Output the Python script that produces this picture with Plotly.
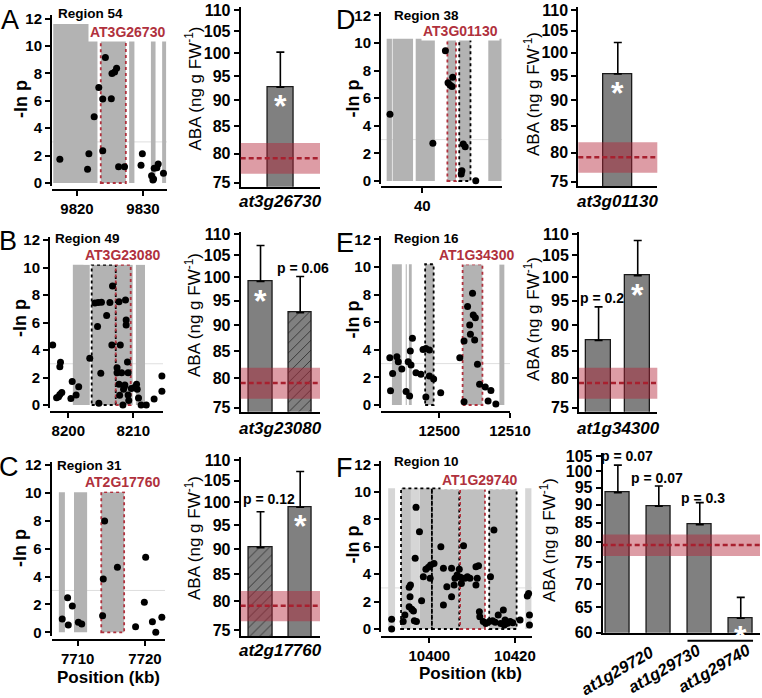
import math
import plotly.graph_objects as go

# ======================= DATA =======================
# Panel A - Region 54 (GWAS -ln p vs position, kb)
a_pos = [9817.4, 9821.6, 9821.8, 9822.6, 9823.3, 9823.9, 9823.9, 9824.3, 9825.2, 9825.3,
         9825.7, 9826.0, 9826.3, 9827.2, 9829.9, 9829.7, 9831.3, 9831.5, 9831.7, 9832.1,
         9832.3, 9833.1, 9831.6]
a_lnp = [1.73, 1.00, 2.14, 4.84, 6.98, 6.13, 2.36, 9.17, 6.15, 8.00,
         8.10, 8.37, 1.19, 1.19, 2.14, 1.29, 0.53, 0.22, 1.07, 1.12,
         1.39, 0.71, 0.30]
a_genes = [[9816.4, 9823.1], [9823.6, 9827.4], [9827.9, 9828.7], [9831.2, 9831.9], [9832.9, 9833.5]]
a_candidate = [9823.6, 9827.4]
a_tested = []
a_xticks = [9820, 9830]

# Panel B - Region 49
b_pos = [8197.6, 8198.2, 8198.5, 8198.7, 8198.8, 8198.7, 8199.0, 8200.4, 8200.6, 8201.2,
         8201.6, 8203.3, 8204.1, 8204.5, 8204.7, 8205.0, 8204.6, 8205.1, 8206.4, 8205.9,
         8206.8, 8206.7, 8207.8, 8207.5, 8207.5, 8207.8, 8207.9, 8208.2, 8208.0, 8208.4,
         8208.8, 8208.9, 8208.9, 8209.1, 8209.2, 8208.6, 8208.7, 8208.5, 8209.2, 8209.3,
         8209.7, 8210.3, 8210.5, 8210.6, 8210.8, 8211.2, 8212.0, 8213.2, 8214.4, 8214.4]
b_lnp = [4.36, 0.53, 0.60, 0.77, 3.10, 2.79, 0.90, 0.48, 1.70, 0.73,
         1.33, 3.40, 7.42, 5.70, 0.13, 2.30, 7.45, 7.48, 7.45, 6.50,
         8.66, 4.36, 7.50, 2.70, 2.35, 1.50, 0.70, 2.35, 4.36, 0.00,
         7.64, 6.18, 5.82, 3.13, 2.35, 1.30, 1.45, 1.15, 0.72, 0.32,
         1.20, 1.33, 1.50, 1.15, 0.50, 0.00, 0.00, 0.44, 2.10, 1.00]
b_genes = [[8200.7, 8203.3], [8203.6, 8209.9], [8210.4, 8211.8]]
b_candidate = [8207.3, 8209.6]
b_tested = [[8203.6, 8207.3]]
b_xticks = [8200, 8210]

# Panel C - Region 31
c_pos = [7707.7, 7708.5, 7708.6, 7709.2, 7710.1, 7710.6, 7714.0, 7713.8, 7713.7, 7715.9,
         7718.6, 7719.9, 7720.1, 7721.1, 7721.6, 7722.5]
c_lnp = [0.95, 2.48, 0.52, 1.89, 0.72, 0.60, 7.98, 3.82, 1.19, 4.66,
         0.40, 2.15, 5.38, 0.76, 0.00, 1.08]
c_genes = [[7707.2, 7708.1], [7709.45, 7711.4], [7713.5, 7716.9]]
c_candidate = [7713.5, 7716.9]
c_tested = []
c_xticks = [7710, 7720]

# Panel D - Region 38
d_pos = [35.1, 41.6, 43.5, 43.9, 44.2, 44.5, 44.6, 46.2, 46.5, 46.0, 45.9, 48.1]
d_lnp = [4.83, 2.73, 9.44, 7.12, 6.96, 6.84, 7.51, 2.68, 2.49, 0.75, 0.51, 0.02]
d_genes = [[34.6, 35.4], [35.5, 38.6], [39.0, 41.9], [43.8, 45.1], [45.6, 47.3], [50.0, 52.0]]
d_candidate = [43.8, 45.1]
d_tested = [[45.6, 47.3]]
d_xticks = [40]

# Panel E - Region 16
e_pos = [12493.0, 12493.4, 12493.1, 12494.0, 12494.2, 12494.7, 12495.3, 12495.8, 12495.6, 12496.0,
         12495.9, 12496.2, 12496.7, 12497.4, 12497.7, 12498.1, 12498.6, 12498.1, 12498.6, 12499.2,
         12500.2, 12502.9, 12503.5, 12503.5, 12504.0, 12504.3, 12504.4, 12504.7, 12504.8, 12505.1,
         12505.0, 12505.4, 12505.7, 12506.5, 12507.3, 12506.9, 12508.0]
e_lnp = [3.43, 2.29, 1.03, 3.50, 3.13, 2.60, 0.97, 0.65, 3.13, 2.90,
         3.91, 4.83, 2.34, 2.22, 4.03, 4.10, 3.98, 0.58, 2.10, 1.88,
         0.89, 3.43, 4.64, 0.24, 7.13, 5.80, 5.12, 8.09, 6.52, 6.33,
         4.71, 2.95, 1.50, 1.31, 1.05, 0.29, 0.07]
e_genes = [[12493.3, 12494.7], [12495.25, 12495.4], [12495.7, 12496.1], [12498.0, 12499.2],
           [12503.3, 12506.1], [12508.5, 12509.2]]
e_candidate = [12503.3, 12506.1]
e_tested = [[12498.0, 12499.2]]
e_xticks = [12500, 12510]

# Panel F - Region 10
f_pos = [10391.2, 10391.2, 10393.9, 10394.3, 10395.3, 10395.6, 10395.5, 10395.3, 10395.9, 10396.3,
         10396.5, 10397.0, 10396.9, 10397.7, 10396.7, 10398.2, 10398.6, 10399.2, 10399.8, 10400.2,
         10400.3, 10401.1, 10402.7, 10403.3, 10403.3, 10404.1, 10405.2, 10405.8, 10405.2, 10406.0,
         10406.5, 10407.0, 10407.3, 10407.5, 10408.0, 10408.3, 10408.9, 10409.5, 10410.9, 10411.5,
         10410.9, 10411.2, 10411.7, 10411.8, 10412.6, 10413.2, 10414.0, 10414.8, 10415.4, 10414.3,
         10415.1, 10416.1, 10416.7, 10417.5, 10417.7, 10418.2, 10418.9, 10419.5, 10417.3, 10421.2,
         10422.9, 10423.2, 10423.4, 10423.4]
f_lnp = [0.71, 0.00, 0.54, 1.02, 3.04, 3.21, 2.36, 1.63, 1.44, 1.31,
         0.61, 0.54, 8.88, 7.10, 5.16, 2.07, 3.82, 4.36, 4.50, 3.70,
         4.67, 4.79, 6.01, 4.43, 1.75, 3.09, 4.43, 3.21, 2.36, 3.70,
         3.94, 4.36, 3.77, 3.33, 6.08, 3.70, 3.82, 3.70, 4.55, 4.62,
         3.21, 3.70, 1.26, 0.90, 0.54, 0.41, 0.54, 0.61, 0.49, 3.82,
         7.23, 1.02, 0.41, 0.29, 0.66, 0.41, 0.54, 0.46, 1.39, 0.66,
         2.41, 2.60, 1.02, 0.29]
f_genes = [[10393.4, 10395.7], [10397.8, 10400.6], [10400.6, 10407.0], [10407.2, 10413.0], [10414.0, 10420.4]]
f_genes_light = [[10390.4, 10392.0], [10395.7, 10397.8], [10422.4, 10423.9]]
f_candidate = [10407.2, 10413.0]
f_tested = [[10393.4, 10400.6], [10400.6, 10407.0], [10414.0, 10420.4]]
f_xticks = [10400, 10420]

lnp_ticks = [0, 2, 4, 6, 8, 10, 12]

# ABA content (ng g FW-1) of mutant lines, mean and error
a_lines = ["at3g26730"]
a_aba = [92.7]
a_err = [7.5]
a_hatched = [False]
a_sig = [True]
a_p = [""]

b_lines = ["at3g23080"]
b_aba = [99.1, 92.5]
b_err = [8.2, 7.7]
b_hatched = [False, True]
b_sig = [True, False]
b_p = ["", "p = 0.06"]

c_lines = ["at2g17760"]
c_aba = [90.3, 98.9]
c_err = [7.6, 8.3]
c_hatched = [True, False]
c_sig = [False, True]
c_p = ["p = 0.12", ""]

d_lines = ["at3g01130"]
d_aba = [95.4]
d_err = [6.9]
d_hatched = [False]
d_sig = [True]
d_p = [""]

e_lines = ["at1g34300"]
e_aba = [87.0, 100.4]
e_err = [6.7, 8.1]
e_hatched = [False, False]
e_sig = [False, True]
e_p = ["p = 0.2", ""]

f_lines = ["at1g29720", "at1g29730", "at1g29740"]
f_aba = [93.5, 89.6, 84.5, 62.8]
f_err = [8.5, 5.9, 6.1, 4.3]
f_hatched = [False, False, False, False]
f_sig = [False, False, False, True]
f_p = ["p = 0.07", "p = 0.07", "p = 0.3", ""]

wt_mean = 79.2
wt_sd = 2.7
aba_ticks = [75, 80, 85, 90, 95, 100, 105, 110]
f_aba_ticks = [60, 65, 70, 75, 80, 85, 90, 95, 100, 105]

# ======================= STYLE / LAYOUT =======================
W, H = 762, 698
FONT = "Liberation Sans, Arial, Helvetica, sans-serif"
RED = "#b0313d"
GENE_GRAY = "#b3b3b3"
F_GRAY = "#c0c0c0"
LIGHT_GRAY = "#d6d6d6"
BAR_GRAY = "#808080"


def fx(p):
    return p / W


def fy(p):
    return 1 - p / H


def axkey(n, k):
    return f"{k}axis" if n == 1 else f"{k}axis{n}"


def aref(n, k):
    return k if n == 1 else f"{k}{n}"


fig = go.Figure()
shapes = []
annots = []
lay = {}


def txt(x, y, text, size, color="black", bold=True, italic=False, angle=0,
        xanchor="center", bg=None, xref="paper", yref="paper", xshift=0, yshift=0):
    a = dict(x=x, y=y, xref=xref, yref=yref, text=text, showarrow=False,
             xanchor=xanchor, yanchor="middle", textangle=angle, xshift=xshift, yshift=yshift,
             font=dict(family=FONT, size=size, color=color,
                       weight="bold" if bold else "normal",
                       style="italic" if italic else "normal"))
    if bg:
        a["bgcolor"] = bg
        a["borderpad"] = 1
    annots.append(a)


scatter_panels = [
    dict(n=1, letter="A", region="Region 54", gene="AT3G26730", pos=a_pos, lnp=a_lnp,
         genes=a_genes, light=[], cand=a_candidate, tested=a_tested, xticks=a_xticks, gray=GENE_GRAY,
         top=10.5, tall=(0, 11.6), yax=52, y0=183, ppu=13.7, xd=(52, 167), tref=(9820, 77),
         ppk=6.6, xline=190, letter_xy=(9.5, 20.5), region_xy=(56, 14), gene_xy=(127, 31.7),
         ytitle_xy=(21, 99), xtitle_xy=None),
    dict(n=3, letter="B", region="Region 49", gene="AT3G23080", pos=b_pos, lnp=b_lnp,
         genes=b_genes, light=[], cand=b_candidate, tested=b_tested, xticks=b_xticks, gray=GENE_GRAY,
         top=10.2, tall=None, yax=50, y0=405, ppu=13.75, xd=(50, 163), tref=(8200, 68.3),
         ppk=6.5, xline=412.3, letter_xy=(8, 241), region_xy=(53, 238.5), gene_xy=(122.8, 255),
         ytitle_xy=(20, 318), xtitle_xy=None),
    dict(n=5, letter="C", region="Region 31", gene="AT2G17760", pos=c_pos, lnp=c_lnp,
         genes=c_genes, light=[], cand=c_candidate, tested=c_tested, xticks=c_xticks, gray=GENE_GRAY,
         top=10.05, tall=None, yax=51.7, y0=632.3, ppu=13.94, xd=(51.7, 165), tref=(7710, 77.7),
         ppk=6.73, xline=640, letter_xy=(9, 466.7), region_xy=(55, 465), gene_xy=(122.5, 481.7),
         ytitle_xy=(20, 548), xtitle_xy=(108, 677)),
    dict(n=7, letter="D", region="Region 38", gene="AT3G01130", pos=d_pos, lnp=d_lnp,
         genes=d_genes, light=[], cand=d_candidate, tested=d_tested, xticks=d_xticks, gray=GENE_GRAY,
         top=10.3, tall=None, yax=381, y0=181, ppu=13.8, xd=(381, 502), tref=(40, 422.3),
         ppk=6.6, xline=187.3, letter_xy=(346, 20), region_xy=(391.7, 15.5), gene_xy=(460.8, 30.8),
         ytitle_xy=(352.5, 99), xtitle_xy=None),
    dict(n=9, letter="E", region="Region 16", gene="AT1G34300", pos=e_pos, lnp=e_lnp,
         genes=e_genes, light=[], cand=e_candidate, tested=e_tested, xticks=e_xticks, gray=GENE_GRAY,
         top=10.2, tall=None, yax=381, y0=405, ppu=13.8, xd=(381, 510), tref=(12500, 439.3),
         ppk=7.07, xline=411.7, letter_xy=(345, 242.5), region_xy=(391.7, 238.5), gene_xy=(476.7, 254.5),
         ytitle_xy=(352.5, 320), xtitle_xy=None),
    dict(n=11, letter="F", region="Region 10", gene="AT1G29740", pos=f_pos, lnp=f_lnp,
         genes=f_genes, light=f_genes_light, cand=f_candidate, tested=f_tested, xticks=f_xticks, gray=F_GRAY,
         top=10.27, tall=None, yax=381, y0=629, ppu=13.7, xd=(381, 531.7), tref=(10400, 429.3),
         ppk=4.28, xline=637.3, letter_xy=(344, 467.5), region_xy=(391.7, 461.5), gene_xy=(479.2, 480),
         ytitle_xy=(352.5, 545), xtitle_xy=(470, 673)),
]

tickfont15 = dict(family=FONT, size=15, color="black", weight="bold")
tickfont16 = dict(family=FONT, size=16, color="black", weight="bold")

for sp in scatter_panels:
    n = sp["n"]
    xr, yr = aref(n, "x"), aref(n, "y")
    t0, tp = sp["tref"]
    x_lo = t0 + (sp["xd"][0] - tp) / sp["ppk"]
    x_hi = t0 + (sp["xd"][1] - tp) / sp["ppk"]
    y_lo, y_hi = -0.25, 12.25
    lay[axkey(n, "x")] = dict(domain=[fx(sp["xd"][0]), fx(sp["xd"][1])], range=[x_lo, x_hi],
                              anchor="free", position=fy(sp["xline"]), showline=True,
                              linecolor="black", linewidth=2, ticks="outside", ticklen=5,
                              tickwidth=2, tickcolor="black", tickvals=sp["xticks"],
                              tickformat="d", tickfont=tickfont15, showgrid=False,
                              zeroline=False, automargin=False)
    lay[axkey(n, "y")] = dict(domain=[fy(sp["y0"] - y_lo * sp["ppu"]), fy(sp["y0"] - y_hi * sp["ppu"])],
                              range=[y_lo, y_hi], anchor=xr, showline=True, linecolor="black",
                              linewidth=2, ticks="outside", ticklen=5, tickwidth=2,
                              tickcolor="black", tickvals=lnp_ticks, tickfont=tickfont15,
                              showgrid=False, zeroline=False, automargin=False)
    # gene models
    for i, (g0, g1) in enumerate(sp["genes"]):
        top = sp["top"]
        if sp["tall"] is not None and sp["tall"][0] == i:
            top = sp["tall"][1]
        shapes.append(dict(type="rect", xref=xr, yref=yr, x0=g0, x1=g1, y0=0, y1=top,
                           fillcolor=sp["gray"], line=dict(width=0), layer="below"))
    for g0, g1 in sp["light"]:
        shapes.append(dict(type="rect", xref=xr, yref=yr, x0=g0, x1=g1, y0=0, y1=sp["top"],
                           fillcolor=LIGHT_GRAY, line=dict(width=0), layer="below"))
    # threshold line
    shapes.append(dict(type="line", xref=f"{xr} domain", yref=yr, x0=0, x1=1, y0=3, y1=3,
                       line=dict(color="rgba(215,215,215,0.8)", width=1), layer="below"))
    # tested genes (black dotted) and candidate gene (red dotted)
    for g0, g1 in sp["tested"]:
        shapes.append(dict(type="rect", xref=xr, yref=yr, x0=g0, x1=g1, y0=0, y1=sp["top"],
                           line=dict(color="black", width=1.8, dash="dot"), layer="below"))
    c0, c1 = sp["cand"]
    shapes.append(dict(type="rect", xref=xr, yref=yr, x0=c0, x1=c1, y0=0, y1=sp["top"],
                       line=dict(color=RED, width=1.8, dash="dot"), layer="below"))
    fig.add_trace(go.Scatter(x=sp["pos"], y=sp["lnp"], mode="markers", xaxis=xr, yaxis=yr,
                             marker=dict(color="black", size=7), cliponaxis=False,
                             hoverinfo="skip", showlegend=False))
    # texts
    txt(fx(sp["letter_xy"][0]), fy(sp["letter_xy"][1]), sp["letter"], 27, bold=False)
    txt(fx(sp["region_xy"][0]), fy(sp["region_xy"][1]), sp["region"], 13.5, xanchor="left")
    txt(fx(sp["gene_xy"][0]), fy(sp["gene_xy"][1]), sp["gene"], 14, color=RED, bg="white")
    txt(fx(sp["ytitle_xy"][0]), fy(sp["ytitle_xy"][1]), "-ln p", 18, angle=-90)
    if sp["xtitle_xy"]:
        txt(fx(sp["xtitle_xy"][0]), fy(sp["xtitle_xy"][1]), "Position (kb)", 17)


def log_range(v1, p1, v2, p2, ptop, pbot):
    l1, l2 = math.log10(v1), math.log10(v2)
    lpp = (l1 - l2) / (p2 - p1)
    return [l2 - (pbot - p2) * lpp, l1 + (p1 - ptop) * lpp]


bar_panels = [
    dict(n=2, vals=a_aba, errs=a_err, hatch=a_hatched, sig=a_sig, p=a_p, lines=a_lines,
         xd=(240.7, 320), xr=(-0.5, 0.5), bw=0.33, cal=(110, 10, 75, 182.7), yd=(186.7, 7.3),
         ticks=aba_ticks, title_xy=(193, 88.5), label_py=201.7, pdx=[0], pdy=[0]),
    dict(n=4, vals=b_aba, errs=b_err, hatch=b_hatched, sig=b_sig, p=b_p, lines=b_lines,
         xd=(240.7, 320), xr=(-0.5, 1.5), bw=0.59, cal=(110, 234.3, 75, 407.7), yd=(411.7, 232.3),
         ticks=aba_ticks, title_xy=(193, 315), label_py=428, pdx=[0, 3], pdy=[0, 9]),
    dict(n=6, vals=c_aba, errs=c_err, hatch=c_hatched, sig=c_sig, p=c_p, lines=c_lines,
         xd=(240.7, 320), xr=(-0.5, 1.5), bw=0.6, cal=(110, 460, 75, 630), yd=(636, 457.3),
         ticks=aba_ticks, title_xy=(193, 538), label_py=650, pdx=[8, 0], pdy=[13, 0]),
    dict(n=8, vals=d_aba, errs=d_err, hatch=d_hatched, sig=d_sig, p=d_p, lines=d_lines,
         xd=(578.3, 657.3), xr=(-0.5, 0.5), bw=0.355, cal=(110, 10, 75, 181.7), yd=(186, 7.3),
         ticks=aba_ticks, title_xy=(532, 94), label_py=201.7, pdx=[0], pdy=[0]),
    dict(n=10, vals=e_aba, errs=e_err, hatch=e_hatched, sig=e_sig, p=e_p, lines=e_lines,
         xd=(579, 657.3), xr=(-0.5, 1.5), bw=0.63, cal=(110, 234.3, 75, 407.7), yd=(411.7, 232.3),
         ticks=aba_ticks, title_xy=(532, 319), label_py=428, pdx=[3, 0], pdy=[9, 0]),
    dict(n=12, vals=f_aba, errs=f_err, hatch=f_hatched, sig=f_sig, p=f_p, lines=None,
         xd=(602.7, 760), xr=(-0.37, 3.47), bw=0.6, cal=(105, 456, 60, 632.7), yd=(632.7, 453.3),
         ticks=f_aba_ticks, title_xy=(548, 540), label_py=None, pdx=[9, -2, 3, 0], pdy=[9, 8, 5, 0]),
]

for bp in bar_panels:
    n = bp["n"]
    xr, yr = aref(n, "x"), aref(n, "y")
    v1, p1, v2, p2 = bp["cal"]
    rng = log_range(v1, p1, v2, p2, bp["yd"][1], bp["yd"][0])
    lay[axkey(n, "x")] = dict(domain=[fx(bp["xd"][0]), fx(bp["xd"][1])], range=list(bp["xr"]),
                              anchor=yr, showline=True, linecolor="black", linewidth=2,
                              showticklabels=False, ticks="", showgrid=False, zeroline=False,
                              automargin=False)
    lay[axkey(n, "y")] = dict(domain=[fy(bp["yd"][0]), fy(bp["yd"][1])], type="log", range=rng,
                              anchor=xr, showline=True, linecolor="black", linewidth=2,
                              ticks="outside", ticklen=5, tickwidth=2, tickcolor="black",
                              tickvals=bp["ticks"], ticktext=[str(t) for t in bp["ticks"]],
                              tickfont=tickfont16, showgrid=False, zeroline=False,
                              automargin=False)
    idx = list(range(len(bp["vals"])))
    fig.add_trace(go.Bar(x=idx, y=bp["vals"], width=bp["bw"], xaxis=xr, yaxis=yr,
                         marker=dict(color=BAR_GRAY, line=dict(color="#1a1a1a", width=1.3),
                                     pattern=dict(shape=["/" if h else "" for h in bp["hatch"]],
                                                  fgcolor="#2a2a2a", bgcolor=BAR_GRAY,
                                                  size=7, solidity=0.12, fillmode="replace")),
                         error_y=dict(type="data", array=bp["errs"], arrayminus=[0] * len(idx),
                                      symmetric=False, color="black", thickness=1.6, width=4),
                         hoverinfo="skip", showlegend=False))
    # wild-type mean +/- sd band
    shapes.append(dict(type="rect", xref=f"{xr} domain", yref=yr, x0=0, x1=1,
                       y0=wt_mean - wt_sd, y1=wt_mean + wt_sd,
                       fillcolor="rgba(180,35,55,0.45)", line=dict(width=0), layer="above"))
    shapes.append(dict(type="line", xref=f"{xr} domain", yref=yr, x0=0, x1=1,
                       y0=wt_mean, y1=wt_mean,
                       line=dict(color="#a8202f", width=2.5, dash="5px,3px"), layer="above"))
    # p-values
    for i, (v, e, p) in enumerate(zip(bp["vals"], bp["errs"], bp["p"])):
        if p:
            annots.append(dict(x=i, y=math.log10(v + e), xref=xr, yref=yr, text=p,
                               showarrow=False, xanchor="center", yanchor="middle",
                               xshift=bp["pdx"][i], yshift=bp["pdy"][i],
                               font=dict(family=FONT, size=14, color="black", weight="bold")))
    # significance asterisks
    for i, (v, s) in enumerate(zip(bp["vals"], bp["sig"])):
        if s:
            annots.append(dict(x=i, y=math.log10(v), xref=xr, yref=yr, text="*", showarrow=False,
                               yanchor="middle", xanchor="center", yshift=-19,
                               font=dict(family=FONT, size=32, color="white", weight="bold")))
    txt(fx(bp["title_xy"][0]), fy(bp["title_xy"][1]), "ABA (ng g FW<sup>-1</sup>)", 17,
        bold=False, angle=-90)
    if bp["lines"] is not None and bp["label_py"] is not None:
        txt(0.5, fy(bp["label_py"]), bp["lines"][0], 17, italic=True, xref=f"{xr} domain")

# Panel F gene labels (rotated) and underline for the two at1g29740 lines
f_label_x = [0, 1, 2.5]
f_label_shift = [0, 6, -6]
f_label_py = [670, 668, 668]
for lbl, lx, sh, lp in zip(f_lines, f_label_x, f_label_shift, f_label_py):
    txt(lx, fy(lp), lbl, 16.5, italic=True, angle=-30, xref="x12", xshift=sh)
shapes.append(dict(type="line", xref="x12", yref="paper", x0=2 - 0.3, x1=3 + 0.3,
                   y0=fy(640.7), y1=fy(640.7), line=dict(color="black", width=2)))

fig.update_layout(template="none", width=W, height=H,
                  margin=dict(l=0, r=0, t=0, b=0, pad=0, autoexpand=False),
                  paper_bgcolor="white", plot_bgcolor="rgba(0,0,0,0)", showlegend=False,
                  shapes=shapes, annotations=annots, bargap=0,
                  font=dict(family=FONT, color="black"), **lay)

fig.write_html("out.html", config={"displayModeBar": False},
               post_script="document.body.style.margin='0px';")
